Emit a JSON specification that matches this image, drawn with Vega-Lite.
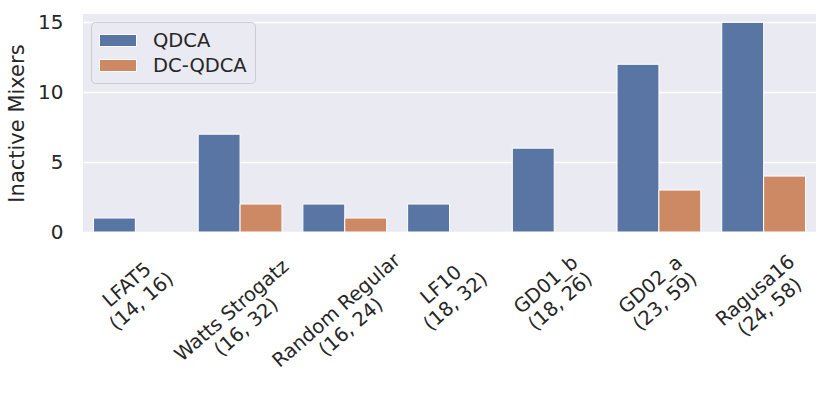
{
  "$schema": "https://vega.github.io/schema/vega-lite/v6.json",
  "width": 733,
  "height": 218,
  "autosize": {"type": "none"},
  "padding": {"left": 83, "top": 14, "right": 14, "bottom": 165},
  "background": "white",
  "config": {
    "view": {"fill": "#EAEAF2", "stroke": null},
    "font": "DejaVu Sans",
    "axis": {
      "labelColor": "#262626",
      "titleColor": "#262626",
      "domain": false,
      "ticks": false,
      "tickSize": 0,
      "labelFont": "DejaVu Sans",
      "titleFont": "DejaVu Sans",
      "titleFontWeight": "normal"
    }
  },
  "data": {
    "values": [
      {"graph": "LFAT5\n(14, 16)", "method": "QDCA", "value": 1},
      {"graph": "Watts Strogatz\n(16, 32)", "method": "QDCA", "value": 7},
      {"graph": "Watts Strogatz\n(16, 32)", "method": "DC-QDCA", "value": 2},
      {"graph": "Random Regular\n(16, 24)", "method": "QDCA", "value": 2},
      {"graph": "Random Regular\n(16, 24)", "method": "DC-QDCA", "value": 1},
      {"graph": "LF10\n(18, 32)", "method": "QDCA", "value": 2},
      {"graph": "GD01_b\n(18, 26)", "method": "QDCA", "value": 6},
      {"graph": "GD02_a\n(23, 59)", "method": "QDCA", "value": 12},
      {"graph": "GD02_a\n(23, 59)", "method": "DC-QDCA", "value": 3},
      {"graph": "Ragusa16\n(24, 58)", "method": "QDCA", "value": 15},
      {"graph": "Ragusa16\n(24, 58)", "method": "DC-QDCA", "value": 4}
    ]
  },
  "mark": {"type": "bar", "stroke": "white", "strokeWidth": 1},
  "encoding": {
    "x": {
      "field": "graph",
      "type": "nominal",
      "sort": null,
      "scale": {"paddingInner": 0.2, "paddingOuter": 0.1},
      "axis": {
        "title": null,
        "labelAngle": -41,
        "labelAlign": "center",
        "labelBaseline": "top",
        "labelFontSize": 19.5,
        "labelLineHeight": 22,
        "labelPadding": 21,
        "labelOverlap": false,
        "labelBound": false,
        "labelFlush": false,
        "labelLimit": 0,
        "labelExpr": "split(datum.value, '\\n')",
        "encoding": {
          "labels": {
            "dx": {"value": {"expr": "-4.196*max(0.7*length(replace(split(datum.value,'\\n')[0], regexp('[^A-Z]','g'), '')) + 0.56*length(replace(split(datum.value,'\\n')[0], regexp('[^a-z_]','g'), '')) + 0.636*length(replace(split(datum.value,'\\n')[0], regexp('[^0-9]','g'), '')) + 0.33*length(replace(split(datum.value,'\\n')[0], regexp('[A-Za-z0-9_]','g'), '')), 0.7*length(replace(split(datum.value,'\\n')[1], regexp('[^A-Z]','g'), '')) + 0.56*length(replace(split(datum.value,'\\n')[1], regexp('[^a-z_]','g'), '')) + 0.636*length(replace(split(datum.value,'\\n')[1], regexp('[^0-9]','g'), '')) + 0.33*length(replace(split(datum.value,'\\n')[1], regexp('[A-Za-z0-9_]','g'), ''))) - 10.62"}},
            "dy": {"value": {"expr": "4.829*max(0.7*length(replace(split(datum.value,'\\n')[0], regexp('[^A-Z]','g'), '')) + 0.56*length(replace(split(datum.value,'\\n')[0], regexp('[^a-z_]','g'), '')) + 0.636*length(replace(split(datum.value,'\\n')[0], regexp('[^0-9]','g'), '')) + 0.33*length(replace(split(datum.value,'\\n')[0], regexp('[A-Za-z0-9_]','g'), '')), 0.7*length(replace(split(datum.value,'\\n')[1], regexp('[^A-Z]','g'), '')) + 0.56*length(replace(split(datum.value,'\\n')[1], regexp('[^a-z_]','g'), '')) + 0.636*length(replace(split(datum.value,'\\n')[1], regexp('[^0-9]','g'), '')) + 0.33*length(replace(split(datum.value,'\\n')[1], regexp('[A-Za-z0-9_]','g'), ''))) - 9.22"}}
          }
        }
      }
    },
    "xOffset": {
      "field": "method",
      "type": "nominal",
      "sort": ["QDCA", "DC-QDCA"],
      "scale": {"domain": ["QDCA", "DC-QDCA"], "paddingInner": 0, "paddingOuter": 0}
    },
    "y": {
      "field": "value",
      "type": "quantitative",
      "scale": {"domain": [0, 15.6], "nice": false, "zero": true},
      "axis": {
        "values": [0, 5, 10, 15],
        "grid": true,
        "gridColor": "white",
        "gridWidth": 1.5,
        "title": "Inactive Mixers",
        "labelFontSize": 20,
        "titleFontSize": 21,
        "labelPadding": 20,
        "titlePadding": 10
      }
    },
    "color": {
      "field": "method",
      "type": "nominal",
      "scale": {"domain": ["QDCA", "DC-QDCA"], "range": ["#5975A4", "#CC8963"]},
      "legend": {
        "title": null,
        "orient": "top-left",
        "offset": 8,
        "fillColor": "#EAEAF2",
        "strokeColor": "#CCCCCC",
        "cornerRadius": 4,
        "padding": 8,
        "labelFontSize": 19.5,
        "labelColor": "#262626",
        "labelFont": "DejaVu Sans",
        "symbolType": "M-1,-0.6H2.7V0.6H-1Z",
        "symbolSize": 400,
        "symbolStrokeColor": "white",
        "symbolStrokeWidth": 1,
        "symbolOpacity": 1,
        "labelOffset": 33,
        "rowPadding": 5
      }
    }
  }
}
